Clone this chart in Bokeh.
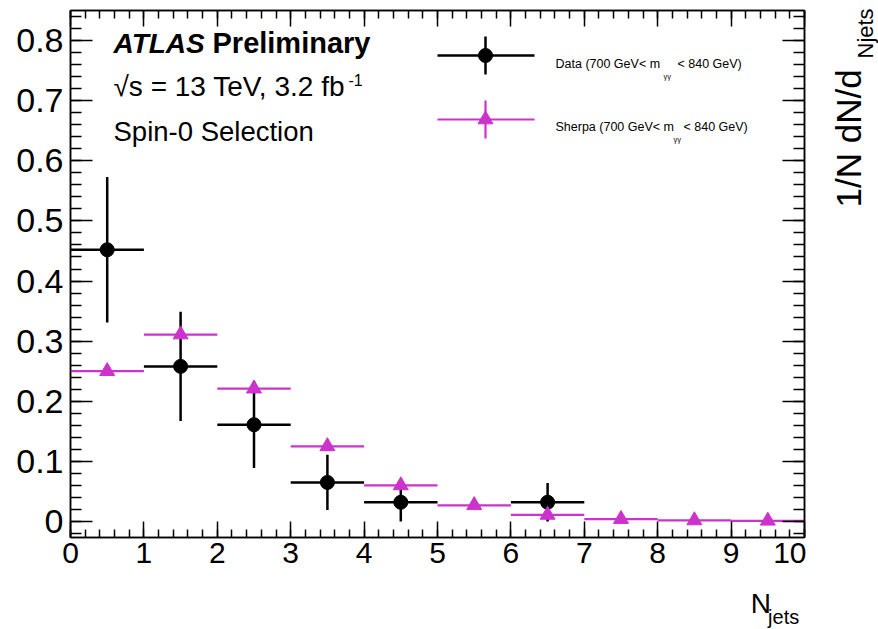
import numpy as np
from bokeh.plotting import figure
from bokeh.layouts import row, column
from bokeh.models import Range1d, LinearAxis, Label, FixedTicker, CustomJSTickFormatter
from bokeh.embed import file_html
from bokeh.resources import INLINE

# ---------------- values ----------------
bin_width = 1.0
sherpa_bins = [0.5, 1.5, 2.5, 3.5, 4.5, 5.5, 6.5, 7.5, 8.5, 9.5]
sherpa_values = [0.250, 0.311, 0.221, 0.125, 0.060, 0.027, 0.011, 0.004, 0.0018, 0.0012]
sherpa_errors = [0.005, 0.006, 0.005, 0.004, 0.003, 0.002, 0.0013, 0.0008, 0.0005, 0.0004]

data_bins = [0.5, 1.5, 2.5, 3.5, 4.5, 6.5]
data_values = [0.452, 0.258, 0.161, 0.065, 0.032, 0.032]
data_errors = [0.121, 0.091, 0.072, 0.046, 0.032, 0.032]

x_ticks = [0, 1, 2, 3, 4, 5, 6, 7, 8, 9, 10]
x_tick_labels = ["0", "1", "2", "3", "4", "5", "6", "7", "8", "9", "10"]
y_ticks = [0.0, 0.1, 0.2, 0.3, 0.4, 0.5, 0.6, 0.7, 0.8]
y_tick_labels = ["0", "0.1", "0.2", "0.3", "0.4", "0.5", "0.6", "0.7", "0.8"]

# ---------------- geometry / style ----------------
W, H = 878, 629
MAIN_W, MAIN_H = 806, 585          # main plot; text strips fill the rest
FRAME_L, FRAME_R, FRAME_T, FRAME_B = 70, 804, 10, 537
X_RANGE = (0.0, 10.0)
Y_RANGE = (-0.0266, 0.85)
FONT = "Liberation Sans"
MAGENTA = "#cc33cc"


def to_data(px, py):
    """Canvas pixel (from top-left) -> data coordinates of the main plot."""
    x = X_RANGE[0] + (px - FRAME_L) / (FRAME_R - FRAME_L) * (X_RANGE[1] - X_RANGE[0])
    y = Y_RANGE[1] - (py - FRAME_T) / (FRAME_B - FRAME_T) * (Y_RANGE[1] - Y_RANGE[0])
    return x, y


p = figure(
    width=MAIN_W, height=MAIN_H,
    x_range=Range1d(*X_RANGE), y_range=Range1d(*Y_RANGE),
    output_backend="svg", toolbar_location=None,
    min_border_left=FRAME_L, min_border_right=MAIN_W - FRAME_R,
    min_border_top=FRAME_T, min_border_bottom=MAIN_H - FRAME_B,
)
p.xgrid.visible = False
p.ygrid.visible = False
p.outline_line_color = "black"
p.outline_line_width = 1.5
p.background_fill_color = "white"
p.border_fill_color = "white"

x_minor = [round(v, 2) for v in np.arange(0, 10.001, 0.2)]
y_minor = [round(v, 2) for v in np.arange(-0.02, 0.85, 0.02)]
x_ticker = FixedTicker(ticks=x_ticks, minor_ticks=x_minor)
y_ticker = FixedTicker(ticks=y_ticks, minor_ticks=y_minor)


def style_axis(ax, major_in, minor_in, labels=True, size="30px"):
    ax.major_tick_in = major_in
    ax.major_tick_out = 0
    ax.minor_tick_in = minor_in
    ax.minor_tick_out = 0
    ax.major_tick_line_color = "black"
    ax.minor_tick_line_color = "black"
    ax.major_tick_line_width = 1.5
    ax.minor_tick_line_width = 1.5
    ax.axis_line_color = "black"
    ax.axis_line_width = 1.5
    ax.major_label_text_font = FONT
    ax.major_label_text_color = "black"
    ax.major_label_text_font_size = size
    if not labels:
        # mirror axis: ticks only
        ax.formatter = CustomJSTickFormatter(code="return ''")
        ax.major_label_standoff = 0


xb = p.xaxis[0]
xb.ticker = x_ticker
xb.major_label_overrides = dict(zip(x_ticks, x_tick_labels))
style_axis(xb, 16, 8, True, "30px")
xb.major_label_standoff = 5

yl = p.yaxis[0]
yl.ticker = y_ticker
yl.major_label_overrides = dict(zip(y_ticks, y_tick_labels))
style_axis(yl, 22, 11, True, "34px")
yl.major_label_standoff = 7

yr = LinearAxis(ticker=y_ticker)
style_axis(yr, 22, 11, labels=False, size="1px")
p.add_layout(yr, "right")

xt = LinearAxis(ticker=x_ticker)
style_axis(xt, 16, 8, labels=False, size="1px")
p.add_layout(xt, "above")

# ---------------- data points (black) ----------------
d_lo = [c - bin_width / 2 for c in data_bins]
d_hi = [c + bin_width / 2 for c in data_bins]
d_dn = [v - e for v, e in zip(data_values, data_errors)]
d_up = [v + e for v, e in zip(data_values, data_errors)]
p.segment(x0=d_lo, x1=d_hi, y0=data_values, y1=data_values, line_color="black", line_width=2.5)
p.segment(x0=data_bins, x1=data_bins, y0=d_dn, y1=d_up, line_color="black", line_width=2.5)
p.scatter(x=data_bins, y=data_values, marker="circle", size=14, fill_color="black", line_color="black")

# ---------------- Sherpa prediction (magenta) ----------------
s_lo = [c - bin_width / 2 for c in sherpa_bins]
s_hi = [c + bin_width / 2 for c in sherpa_bins]
s_dn = [v - e for v, e in zip(sherpa_values, sherpa_errors)]
s_up = [v + e for v, e in zip(sherpa_values, sherpa_errors)]
p.segment(x0=s_lo, x1=s_hi, y0=sherpa_values, y1=sherpa_values, line_color=MAGENTA, line_width=2.2)
p.segment(x0=sherpa_bins, x1=sherpa_bins, y0=s_dn, y1=s_up, line_color=MAGENTA, line_width=2.2)
p.scatter(x=sherpa_bins, y=sherpa_values, marker="triangle", size=15, fill_color=MAGENTA, line_color=MAGENTA)


# ---------------- text inside the frame ----------------
def add_text(text, px, py, size, style="normal", color="black"):
    """(px, py) = left end / vertical middle, in canvas pixels."""
    x, y = to_data(px, py)
    p.add_layout(Label(x=x, y=y, text=text, text_font=FONT, text_font_size=f"{size}px",
                       text_font_style=style, text_color=color,
                       text_align="left", text_baseline="middle"))


add_text("ATLAS", 113, 42.5, 28, "bold italic")
add_text("Preliminary", 212, 42.5, 29, "bold")
add_text("\u221As = 13 TeV, 3.2 fb", 113, 85.5, 28)
add_text("-1", 348, 79, 16)
add_text("Spin-0 Selection", 113, 130.5, 27.5)

# ---------------- legend ----------------
legend_rows = [
    # (label prefix, subscript x, suffix x, row y (px), text y (px), color, marker, width)
    ("Data (700 GeV< m", 663, 677, 55, 63.5, "black", "circle", 2.5),
    ("Sherpa (700 GeV< m", 673, 683, 119, 126.5, MAGENTA, "triangle", 2.2),
]
for label, sub_x, suf_x, row_y, text_y, color, marker, lw in legend_rows:
    x0, y_mid = to_data(437, row_y)
    x1, _ = to_data(534, row_y)
    xc, y_top = to_data(485, row_y - 19)
    _, y_bot = to_data(485, row_y + 19)
    p.segment(x0=[x0], x1=[x1], y0=[y_mid], y1=[y_mid], line_color=color, line_width=lw)
    p.segment(x0=[xc], x1=[xc], y0=[y_bot], y1=[y_top], line_color=color, line_width=lw)
    p.scatter(x=[xc], y=[y_mid], marker=marker, size=14 if marker == "circle" else 15,
              fill_color=color, line_color=color)
    add_text(label, 555, text_y, 12.5)
    add_text("\u03b3\u03b3", sub_x, text_y + 12, 7.5)
    add_text("< 840 GeV)", suf_x, text_y, 12.5)


# ---------------- axis-title strips (plain pixel coordinates) ----------------
def text_strip(width, height):
    f = figure(width=width, height=height, x_range=Range1d(0, width), y_range=Range1d(0, height),
               output_backend="svg", toolbar_location=None, x_axis_type=None, y_axis_type=None,
               min_border=0, min_border_left=0, min_border_right=0,
               min_border_top=0, min_border_bottom=0)
    f.outline_line_color = None
    f.grid.visible = False
    f.background_fill_color = "white"
    f.border_fill_color = "white"
    return f


def strip_text(f, left, top, text, px, py, size, angle=0.0):
    """(px, py) in canvas pixels; the strip starts at (left, top)."""
    f.add_layout(Label(x=px - left, y=f.height - (py - top), text=text, text_font=FONT,
                       text_font_size=f"{size}px", text_color="black", angle=angle,
                       text_align="left", text_baseline="middle"))


bottom = text_strip(MAIN_W, H - MAIN_H)
strip_text(bottom, 0, MAIN_H, "N", 747, 603, 28)
strip_text(bottom, 0, MAIN_H, "jets", 766, 616, 20)

right = text_strip(W - MAIN_W, H)
strip_text(right, MAIN_W, 0, "1/N dN/d", 848, 207, 35, angle=np.pi / 2)
strip_text(right, MAIN_W, 0, "Njets", 865, 58, 22, angle=np.pi / 2)

layout = row(column(p, bottom), right)
open("out.html", "w").write(file_html(layout, INLINE))
